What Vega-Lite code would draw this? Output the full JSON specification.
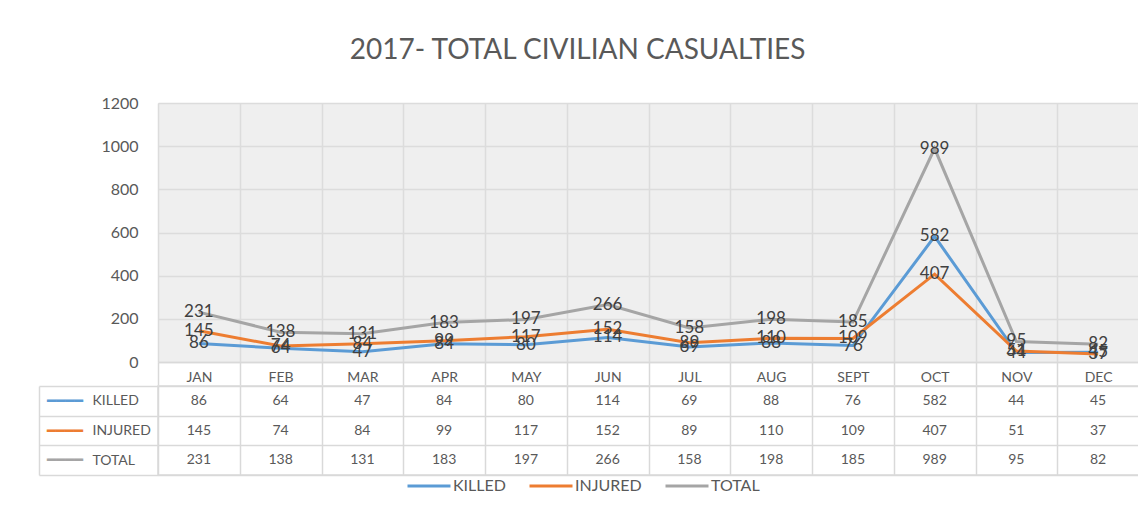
{
  "$schema": "https://vega.github.io/schema/vega-lite/v6.json",
  "padding": {"left": 37, "top": 37, "right": 0, "bottom": 0},
  "background": "white",
  "title": {"text": "2017- TOTAL CIVILIAN CASUALTIES", "fontSize": 28, "fontWeight": "normal", "color": "#595959", "anchor": "middle", "offset": 30, "dx": -11},
  "datasets": {
    "d": [
      {"month": "JAN", "series": "KILLED", "value": 86},
      {"month": "FEB", "series": "KILLED", "value": 64},
      {"month": "MAR", "series": "KILLED", "value": 47},
      {"month": "APR", "series": "KILLED", "value": 84},
      {"month": "MAY", "series": "KILLED", "value": 80},
      {"month": "JUN", "series": "KILLED", "value": 114},
      {"month": "JUL", "series": "KILLED", "value": 69},
      {"month": "AUG", "series": "KILLED", "value": 88},
      {"month": "SEPT", "series": "KILLED", "value": 76},
      {"month": "OCT", "series": "KILLED", "value": 582},
      {"month": "NOV", "series": "KILLED", "value": 44},
      {"month": "DEC", "series": "KILLED", "value": 45},
      {"month": "JAN", "series": "INJURED", "value": 145},
      {"month": "FEB", "series": "INJURED", "value": 74},
      {"month": "MAR", "series": "INJURED", "value": 84},
      {"month": "APR", "series": "INJURED", "value": 99},
      {"month": "MAY", "series": "INJURED", "value": 117},
      {"month": "JUN", "series": "INJURED", "value": 152},
      {"month": "JUL", "series": "INJURED", "value": 89},
      {"month": "AUG", "series": "INJURED", "value": 110},
      {"month": "SEPT", "series": "INJURED", "value": 109},
      {"month": "OCT", "series": "INJURED", "value": 407},
      {"month": "NOV", "series": "INJURED", "value": 51},
      {"month": "DEC", "series": "INJURED", "value": 37},
      {"month": "JAN", "series": "TOTAL", "value": 231},
      {"month": "FEB", "series": "TOTAL", "value": 138},
      {"month": "MAR", "series": "TOTAL", "value": 131},
      {"month": "APR", "series": "TOTAL", "value": 183},
      {"month": "MAY", "series": "TOTAL", "value": 197},
      {"month": "JUN", "series": "TOTAL", "value": 266},
      {"month": "JUL", "series": "TOTAL", "value": 158},
      {"month": "AUG", "series": "TOTAL", "value": 198},
      {"month": "SEPT", "series": "TOTAL", "value": 185},
      {"month": "OCT", "series": "TOTAL", "value": 989},
      {"month": "NOV", "series": "TOTAL", "value": 95},
      {"month": "DEC", "series": "TOTAL", "value": 82}
    ]
  },
  "spacing": -10,
  "vconcat": [
    {
      "width": 981,
      "height": 259,
      "data": {"name": "d"},
      "view": {"fill": "#efefef", "stroke": null},
      "encoding": {
        "x": {
          "field": "month", "type": "ordinal",
          "sort": ["JAN","FEB","MAR","APR","MAY","JUN","JUL","AUG","SEPT","OCT","NOV","DEC"],
          "scale": {"type": "band", "paddingInner": 0, "paddingOuter": 0},
          "axis": {"title": null, "tickBand": "extent", "grid": true, "gridColor": "#dcdcdc", "gridWidth": 1.5, "ticks": true, "tickSize": 23, "tickColor": "#d9d9d9", "tickWidth": 1.5, "domain": true, "domainColor": "#d9d9d9", "domainWidth": 1.5, "labelAngle": 0, "labelPadding": -15, "labelBaseline": "top", "labelFontSize": 14, "labelColor": "#595959"}
        },
        "y": {
          "field": "value", "type": "quantitative",
          "scale": {"domain": [0, 1200], "nice": false},
          "axis": {"title": null, "values": [0,200,400,600,800,1000,1200], "format": "d", "grid": true, "gridColor": "#dcdcdc", "gridWidth": 1.5, "ticks": false, "domain": false, "labelPadding": 20, "labelFontSize": 16, "labelColor": "#595959"}
        }
      },
      "layer": [
        {
          "mark": {"type": "line", "strokeWidth": 3},
          "encoding": {
            "color": {
              "field": "series", "type": "nominal",
              "scale": {"domain": ["KILLED", "INJURED", "TOTAL"], "range": ["#5b9bd5", "#ed7d31", "#a5a5a5"]},
              "legend": {"title": null, "orient": "none", "legendX": 248, "legendY": 360, "direction": "horizontal", "symbolType": "stroke", "symbolStrokeWidth": 3, "symbolSize": 1849, "labelFontSize": 16, "labelColor": "#595959", "columnPadding": 17, "labelOffset": 1, "gridAlign": "each"}
            }
          }
        },
        {
          "mark": {"type": "text", "fontSize": 17, "color": "#404040"},
          "encoding": {"text": {"field": "value", "type": "quantitative"}}
        }
      ]
    },
    {
      "width": 981,
      "height": 89,
      "data": {"name": "d"},
      "view": {"stroke": "#d9d9d9", "strokeWidth": 1.5},
      "encoding": {
        "x": {
          "field": "month", "type": "ordinal",
          "sort": ["JAN","FEB","MAR","APR","MAY","JUN","JUL","AUG","SEPT","OCT","NOV","DEC"],
          "scale": {"type": "band", "paddingInner": 0, "paddingOuter": 0},
          "axis": {"title": null, "tickBand": "extent", "grid": true, "gridColor": "#d9d9d9", "gridWidth": 1.5, "labels": false, "ticks": false, "domain": false}
        }
      },
      "layer": [
        {
          "mark": {"type": "text", "fontSize": 14, "color": "#595959"},
          "encoding": {
            "y": {
              "field": "series", "type": "nominal",
              "sort": ["KILLED", "INJURED", "TOTAL"],
              "scale": {"type": "band", "paddingInner": 0, "paddingOuter": 0},
              "axis": {"title": null, "tickBand": "extent", "grid": true, "gridColor": "#d9d9d9", "gridWidth": 1.5, "ticks": true, "tickSize": 119, "tickColor": "#d9d9d9", "tickWidth": 1.5, "domain": false, "labelAlign": "left", "labelPadding": -53, "labelFontSize": 14, "labelColor": "#595959"}
            },
            "text": {"field": "value", "type": "quantitative"}
          }
        },
        {
          "mark": {"type": "text", "opacity": 0},
          "encoding": {
            "y": {
              "field": "series", "type": "nominal",
              "sort": ["KILLED", "INJURED", "TOTAL"],
              "scale": {"type": "band", "paddingInner": 0, "paddingOuter": 0},
              "axis": {"title": null, "orient": "left", "offset": 119, "grid": false, "ticks": false, "domain": true, "domainColor": "#d9d9d9", "domainWidth": 1.5, "labelAlign": "left", "labelPadding": -7, "labelFontSize": 15, "labelExpr": "'━━━━'", "labelColor": {"condition": [{"test": "datum.value === 'KILLED'", "value": "#5b9bd5"}, {"test": "datum.value === 'INJURED'", "value": "#ed7d31"}], "value": "#a5a5a5"}}
            },
            "text": {"field": "value", "type": "quantitative"}
          }
        }
      ],
      "resolve": {"axis": {"y": "independent"}}
    }
  ],
  "resolve": {"scale": {"color": "shared"}, "legend": {"color": "shared"}},
  "config": {
    "font": "Lato",
    "axis": {"labelFont": "Lato"},
    "legend": {"labelFont": "Lato"}
  }
}
